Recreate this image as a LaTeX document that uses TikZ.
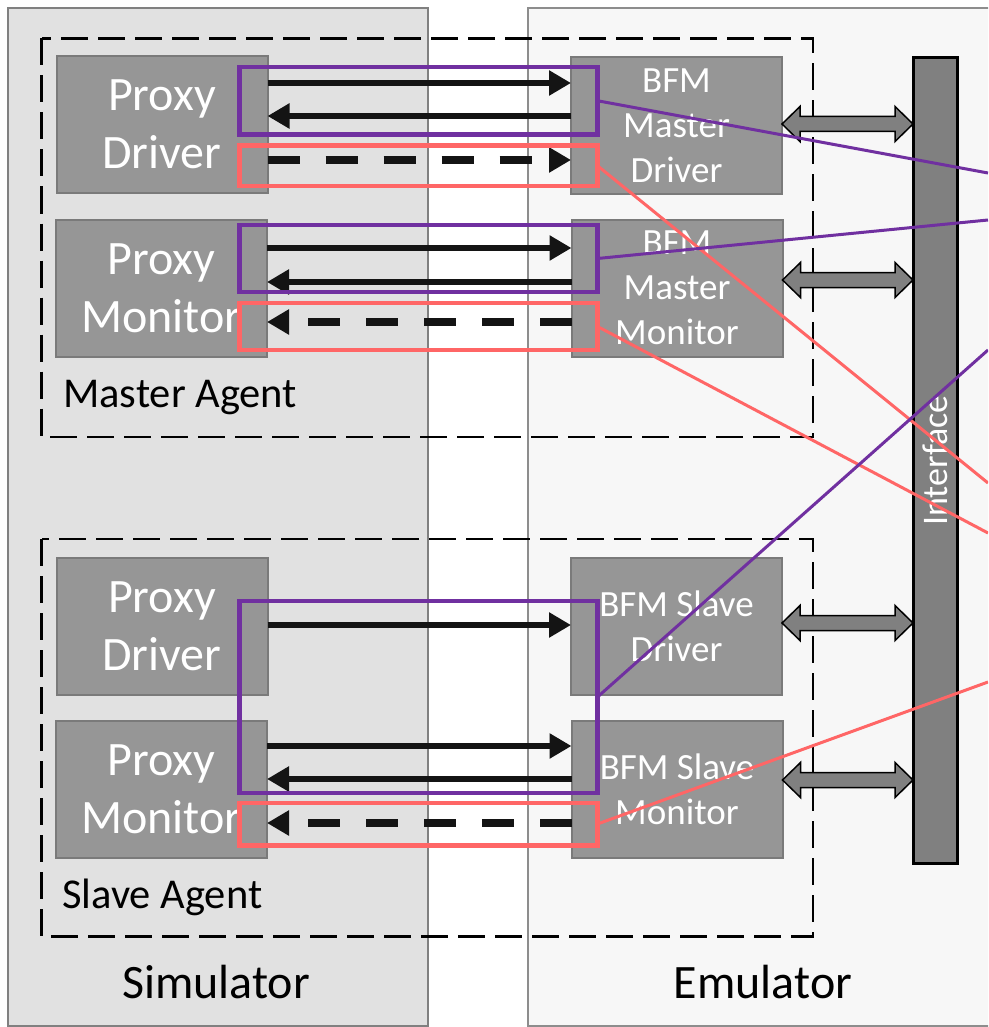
\documentclass[tikz,border=0pt]{standalone}
\usepackage{fontspec}
\setmainfont{Carlito}
\usetikzlibrary{arrows.meta,calc}

\definecolor{simfill}{RGB}{225,225,225}
\definecolor{emufill}{RGB}{247,247,247}
\definecolor{framegray}{RGB}{128,128,128}
\definecolor{blockfill}{RGB}{150,150,150}
\definecolor{blockedge}{RGB}{122,122,122}
\definecolor{busfill}{RGB}{128,128,128}
\definecolor{linkpurple}{RGB}{112,48,160}
\definecolor{linkred}{RGB}{255,102,102}
\definecolor{arrowblack}{RGB}{20,20,20}

% fat two-headed arrow between a block (east side) and the bus (west side) at height #3
\newcommand\fatlink[3]{%
  \draw[fatarrow] let \p1=(#1.east |- 0,#3), \p2=(#2.west |- 0,#3) in
    (\x1,\y1) -- (\x1+18pt,\y1+17.5pt) -- (\x1+18pt,\y1+7.5pt)
    -- (\x2-18pt,\y1+7.5pt) -- (\x2-18pt,\y1+17.5pt) -- (\x2,\y1)
    -- (\x2-18pt,\y1-17.5pt) -- (\x2-18pt,\y1-7.5pt)
    -- (\x1+18pt,\y1-7.5pt) -- (\x1+18pt,\y1-17.5pt) -- cycle;}

\begin{document}
\begin{tikzpicture}[x=1pt,y=-1pt,
  region/.style={line width=2pt},
  agentbox/.style={draw=black,line width=2.5pt,dash pattern=on 27pt off 10pt},
  block/.style={draw=blockedge,fill=blockfill,line width=2pt,
    minimum width=211pt,minimum height=137pt,inner sep=0pt,outer sep=0pt,
    text=white,align=center},
  proxy/.style={block,font=\fontsize{48}{58}\selectfont},
  bfm/.style={block,font=\fontsize{37}{45}\selectfont},
  bus/.style={draw=black,fill=busfill,line width=3pt,minimum width=44pt,
    minimum height=806pt,inner sep=0pt,outer sep=0pt},
  hlbox/.style={line width=4.5pt,minimum width=358pt,inner sep=0pt,outer sep=0pt},
  hlpurple/.style={hlbox,draw=linkpurple},
  hlred/.style={hlbox,draw=linkred},
  flow/.style={draw=arrowblack,line width=6.5pt,-{Triangle[length=22pt,width=24pt]}},
  flowdash/.style={flow,line width=8pt,dash pattern=on 32pt off 26pt},
  fatarrow/.style={draw=black,fill=busfill,line width=1.5pt,line join=miter},
  tiepurple/.style={draw=linkpurple,line width=3pt},
  tiered/.style={draw=linkred,line width=3pt},
  grouplabel/.style={font=\fontsize{42.5}{50}\selectfont,inner sep=0pt},
  sidelabel/.style={font=\fontsize{48}{57}\selectfont,inner sep=0pt}
]
\useasboundingbox (0,0) rectangle (988,1027);
\clip (0,0) rectangle (988,1027);
\fill[white] (0,0) rectangle (988,1027);

% simulator and emulator regions
\draw[region,draw=framegray,fill=simfill] (8,8) rectangle (427.5,1025.5);
\draw[region,draw=framegray!90,fill=emufill] (527.5,8) rectangle (1000,1026);

% agent groupings
\draw[agentbox] (41.5,38.5) rectangle (813,437);
\draw[agentbox] (41.5,539) rectangle (813,936.5);

% blocks
\node[proxy] (mpd) at (162,124.5) {Proxy\\Driver};
\node[proxy] (mpm) at (161.5,288) {Proxy\\Monitor};
\node[bfm]   (mbd) at (676.5,125.5) {BFM\\Master\\Driver};
\node[bfm]   (mbm) at (677,288) {BFM\\Master\\Monitor};
\node[proxy] (spd) at (162,626) {Proxy\\Driver};
\node[proxy] (spm) at (161.5,789) {Proxy\\Monitor};
\node[bfm]   (sbd) at (676.5,626.5) {BFM Slave\\Driver};
\node[bfm]   (sbm) at (677,789) {BFM Slave\\Monitor};

% interface bus
\node[bus] (bus) at (935,460.5) {};
\node[rotate=90,text=white,font=\fontsize{36}{43}\selectfont,inner sep=0pt] (buslabel) at (bus.center) {Interface};

% labels
\node[grouplabel,anchor=base west] (mlabel) at (63,407) {Master Agent};
\node[grouplabel,anchor=base west] (slabel) at (62,908) {Slave Agent};
\node[sidelabel,anchor=base] (simlabel) at (216,998) {Simulator};
\node[sidelabel,anchor=base] (emulabel) at (763,998) {Emulator};

% transaction flows, master side
\draw[flow] (mpd.east |- 0,83) -- (mbd.west |- 0,83);
\draw[flow] (mbd.west |- 0,116) -- (mpd.east |- 0,116);
\draw[flowdash] (mpd.east |- 0,160) -- (mbd.west |- 0,160);
\draw[flow] (mpm.east |- 0,248) -- (mbm.west |- 0,248);
\draw[flow] (mbm.west |- 0,282) -- (mpm.east |- 0,282);
\draw[flowdash] (mbm.west |- 0,322) -- (mpm.east |- 0,322);

% transaction flows, slave side
\draw[flow] (spd.east |- 0,625) -- (sbd.west |- 0,625);
\draw[flow] (spm.east |- 0,746) -- (sbm.west |- 0,746);
\draw[flow] (sbm.west |- 0,779) -- (spm.east |- 0,779);
\draw[flowdash] (sbm.west |- 0,823) -- (spm.east |- 0,823);

% bus connections
\fatlink{mbd}{bus}{124}
\fatlink{mbm}{bus}{280}
\fatlink{sbd}{bus}{623}
\fatlink{sbm}{bus}{780}

% channel highlights
\node[hlpurple,minimum height=67.5pt] (hp1) at (418.5,100.75) {};
\node[hlred,minimum height=40.5pt]    (hr1) at (418.5,165.75) {};
\node[hlpurple,minimum height=67pt]   (hp2) at (418.5,258.5) {};
\node[hlred,minimum height=47pt]      (hr2) at (418.5,326.5) {};
\node[hlpurple,minimum height=192pt]  (hp3) at (418.5,697) {};
\node[hlred,minimum height=42.5pt]    (hr3) at (418.5,824) {};

% leads running off to the right
\coordinate (ep1) at (988,173);
\coordinate (er1) at (988,483);
\coordinate (ep2) at (988,220);
\coordinate (er2) at (988,533);
\coordinate (ep3) at (988,350);
\coordinate (er3) at (988,682);
\draw[tiepurple] (hp1.east) -- (ep1);
\draw[tiered]    (hr1.east) -- (er1);
\draw[tiepurple] (hp2.east) -- (ep2);
\draw[tiered]    (hr2.east) -- (er2);
\draw[tiepurple] (hp3.east) -- (ep3);
\draw[tiered]    (hr3.east) -- (er3);
\end{tikzpicture}
\end{document}
